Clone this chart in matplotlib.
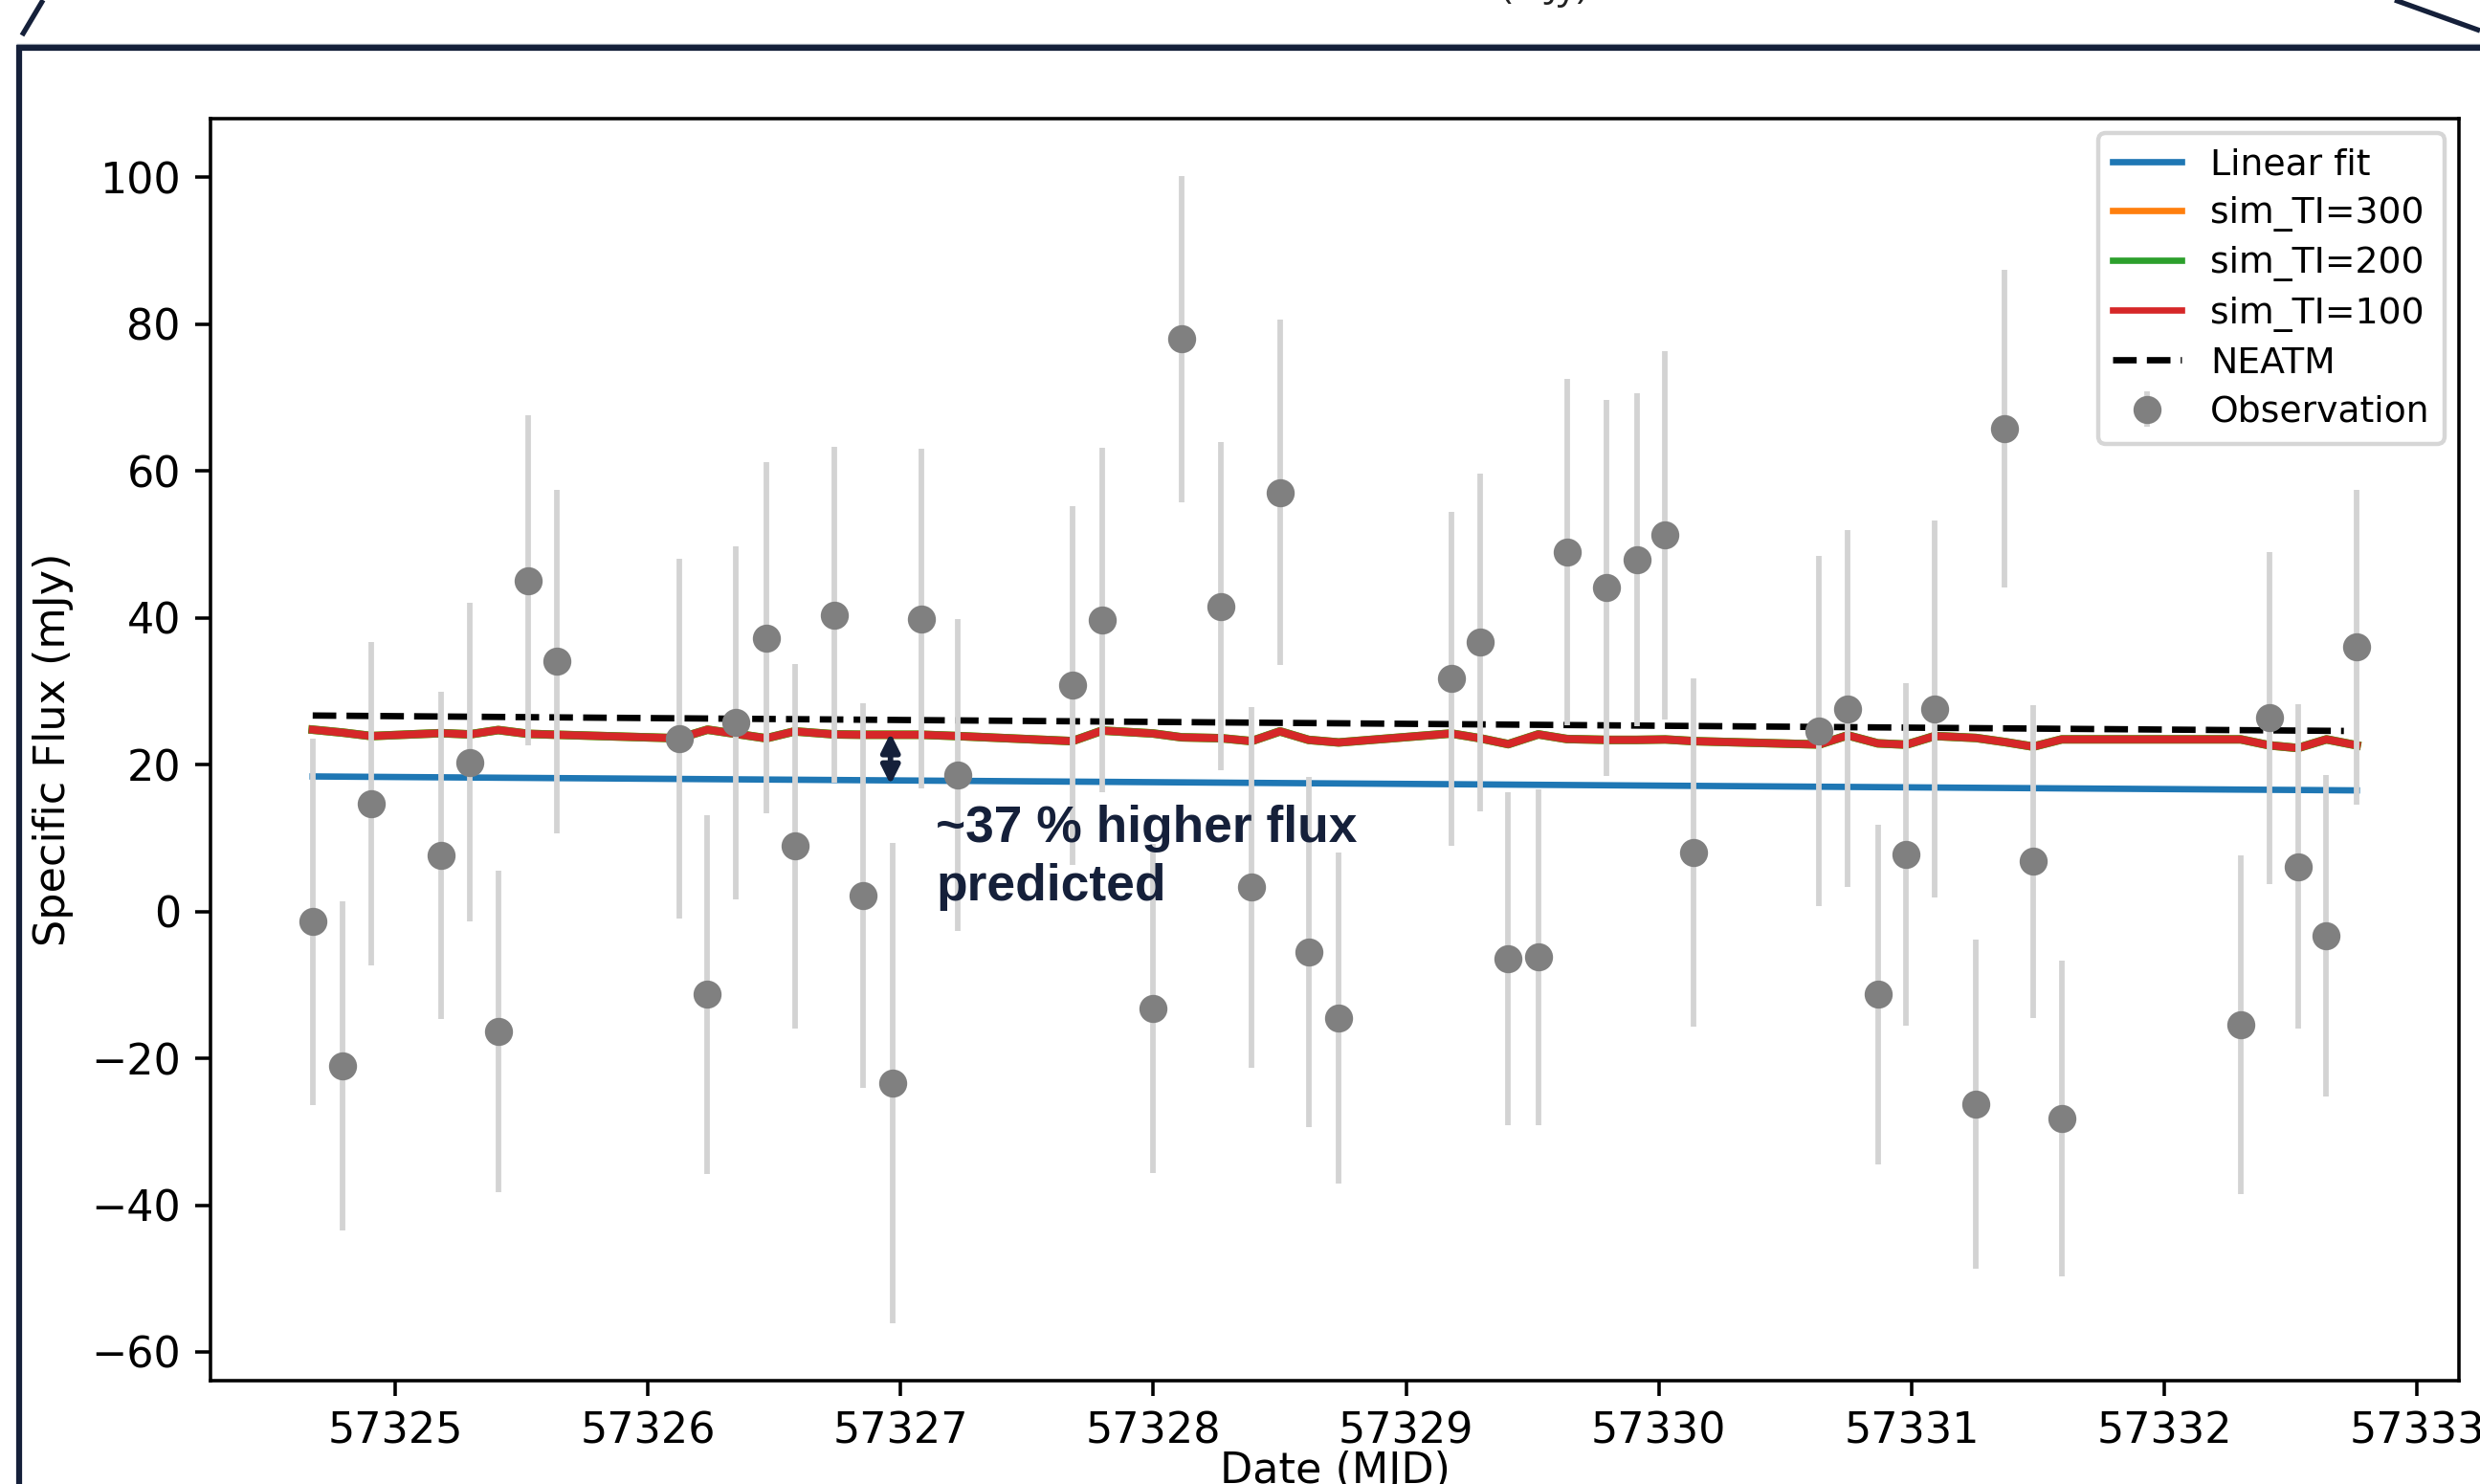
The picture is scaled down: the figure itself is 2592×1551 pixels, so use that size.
import matplotlib.pyplot as plt
from matplotlib.lines import Line2D

# observations (MJD, mJy)
mjd = [57324.674, 57324.793, 57324.906, 57325.182, 57325.295, 57325.408, 57325.527, 57325.640,
       57326.123, 57326.236, 57326.349, 57326.468, 57326.581, 57326.738, 57326.851, 57326.970,
       57327.083, 57327.227, 57327.679, 57327.798, 57327.999, 57328.112, 57328.268, 57328.388,
       57328.501, 57328.614, 57328.733, 57329.178, 57329.291, 57329.404, 57329.523, 57329.636,
       57329.793, 57329.912, 57330.025, 57330.138, 57330.634, 57330.747, 57330.866, 57330.979,
       57331.092, 57331.255, 57331.368, 57331.481, 57331.594, 57332.302, 57332.415, 57332.528,
       57332.641, 57332.761]
flux = [-1.4, -21.0, 14.7, 7.6, 20.3, -16.3, 45.1, 34.1,
        23.6, -11.3, 25.7, 37.3, 8.9, 40.4, 2.2, -23.4,
        39.9, 18.6, 30.8, 39.7, -13.2, 78.0, 41.6, 3.3,
        57.1, -5.5, -14.5, 31.7, 36.7, -6.4, -6.2, 49.0,
        44.1, 47.9, 51.3, 8.0, 24.6, 27.6, -11.3, 7.8,
        27.6, -26.2, 65.8, 6.8, -28.2, -15.4, 26.4, 6.1,
        -3.3, 36.0]
flux_err = [25.0, 22.4, 22.0, 22.3, 21.7, 21.9, 22.5, 23.4,
            24.5, 24.4, 24.1, 23.9, 24.8, 22.9, 26.2, 32.7,
            23.1, 21.3, 24.4, 23.5, 22.4, 22.2, 22.3, 24.6,
            23.5, 23.9, 22.6, 22.7, 23.0, 22.7, 22.9, 23.6,
            25.6, 22.7, 25.1, 23.7, 23.8, 24.3, 23.1, 23.3,
            25.7, 22.4, 21.6, 21.3, 21.5, 23.1, 22.6, 22.1,
            21.9, 21.5]

# simulated flux at the observation epochs (the three TI curves overlap)
sim_ti100 = [24.77, 24.37, 23.90, 24.30, 24.13, 24.72, 24.20, 24.08,
             23.60, 24.77, 24.20, 23.60, 24.54, 24.13, 24.08, 24.08,
             24.08, 23.90, 23.21, 24.65, 24.25, 23.73, 23.61, 23.21,
             24.54, 23.38, 23.03, 24.25, 23.61, 22.80, 24.13, 23.50,
             23.38, 23.38, 23.44, 23.21, 22.75, 24.00, 22.91, 22.73,
             23.91, 23.64, 23.09, 22.46, 23.45, 23.45, 22.64, 22.27,
             23.45, 22.64]
sim_ti200 = sim_ti100
sim_ti300 = sim_ti100

fit_mjd = [57324.674, 57332.761]
fit_flux = [18.4, 16.5]

neatm_mjd = [57324.674, 57332.71]
neatm_flux = [26.7, 24.6]

W, H = 2592, 1551
navy = '#15203a'

fig = plt.figure(figsize=(W / 320, H / 320), dpi=320)
ax = fig.add_axes([220 / W, 108 / H, 2350 / W, 1319 / H])

ax.plot(fit_mjd, fit_flux, color='C0', label='Linear fit')
ax.plot(mjd, sim_ti300, color='C1', lw=2, label='sim_TI=300')
ax.plot(mjd, sim_ti200, color='C2', lw=2, label='sim_TI=200')
ax.plot(mjd, sim_ti100, color='C3', lw=1.8, label='sim_TI=100')
ax.plot(neatm_mjd, neatm_flux, 'k--', label='NEATM')
ax.errorbar(mjd, flux, yerr=flux_err, fmt='o', color='gray', ms=5.6,
            ecolor='lightgray', elinewidth=1.3, label='Observation')

ax.ticklabel_format(axis='x', useOffset=False, style='plain')
ax.set_xlabel('Date (MJD)')
ax.xaxis.set_label_coords(0.5, -0.055)
ax.set_ylabel('Specific Flux (mJy)')
leg = ax.legend(loc='upper right', fontsize=8.5, labelspacing=0.4,
                handlelength=1.9, borderaxespad=0.4)
for h in leg.legend_handles[:5]:
    h.set_linewidth(1.5)

# callout added on the slide
ax.annotate('', xy=(57326.96, 17.3), xytext=(57326.96, 24.3),
            arrowprops=dict(arrowstyle='<|-|>', color=navy, lw=1.3,
                            mutation_scale=9, shrinkA=0, shrinkB=0))
ax.text(57327.14, 14.6, '~37 % higher flux\npredicted', fontsize=12,
        fontweight='bold', family='Liberation Sans', color=navy,
        va='top', ha='left', linespacing=1.3)

# slide frame around the figure
def frame_line(xs, ys, lw, color=navy):
    fig.add_artist(Line2D([x / W for x in xs], [1 - y / H for y in ys],
                          transform=fig.transFigure, color=color, lw=lw,
                          solid_capstyle='butt'))

frame_line([17, W], [45.5, 45.5], 0.3, '#9aa3ad')
frame_line([17, W], [50, 50], 1.4)
frame_line([20, 20], [47, H], 1.4)
frame_line([45, 23], [0, 37], 1.2)
frame_line([2503, W], [0, 32], 1.2)

# bottom of the slide title, cut off by the crop
fig.text(1660 / W, 1 + 2 / H, '(mJy)', ha='right',
         va='baseline', fontsize=9, family='Open Sans', color='#222222')

fig.savefig('out.png', dpi=320)
